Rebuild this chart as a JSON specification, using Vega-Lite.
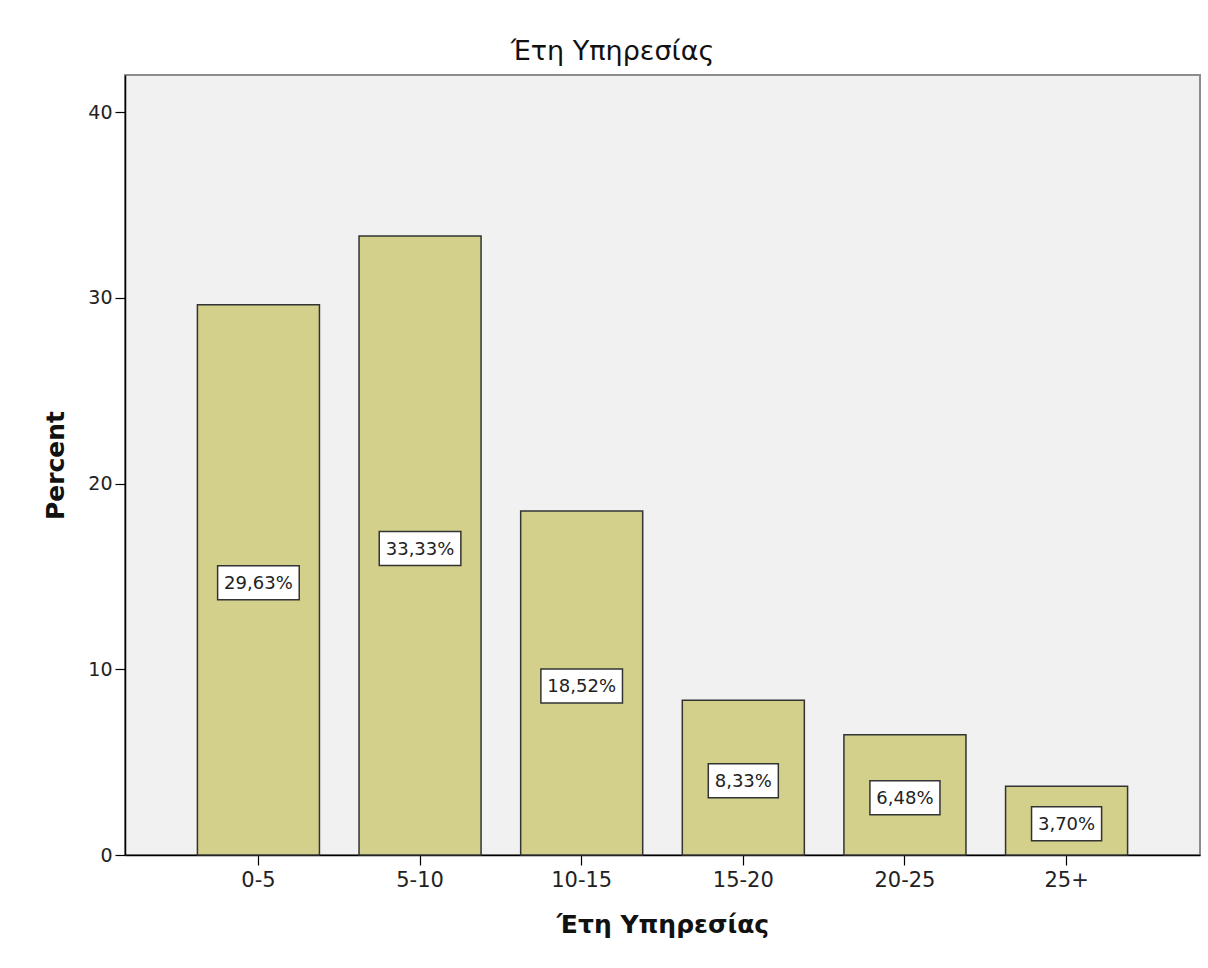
{
  "$schema": "https://vega.github.io/schema/vega-lite/v6.json",
  "autosize": {"type": "none"},
  "padding": {"left": 125, "top": 75, "right": 8, "bottom": 113},
  "width": 1075,
  "height": 780,
  "background": "white",
  "config": {
    "font": "DejaVu Sans",
    "view": {"fill": "#f1f1f1", "stroke": "#8c8c8c", "strokeWidth": 2}
  },
  "title": {
    "text": "Έτη Υπηρεσίας",
    "font": "DejaVu Sans",
    "fontSize": 27,
    "fontWeight": "normal",
    "color": "#111",
    "anchor": "middle",
    "dx": -50,
    "offset": 9
  },
  "data": {
    "values": [
      {"years": "0-5", "pct": 29.63, "label": "29,63%"},
      {"years": "5-10", "pct": 33.33, "label": "33,33%"},
      {"years": "10-15", "pct": 18.52, "label": "18,52%"},
      {"years": "15-20", "pct": 8.33, "label": "8,33%"},
      {"years": "20-25", "pct": 6.48, "label": "6,48%"},
      {"years": "25+", "pct": 3.70, "label": "3,70%"}
    ]
  },
  "encoding": {
    "x": {
      "field": "years",
      "type": "nominal",
      "sort": null,
      "scale": {"paddingInner": 0.245, "paddingOuter": 0.448},
      "axis": {
        "title": "Έτη Υπηρεσίας",
        "titleFontSize": 25,
        "titleFontWeight": "bold",
        "titleColor": "#111",
        "titlePadding": 22,
        "labelAngle": 0,
        "labelFontSize": 21,
        "labelColor": "#222",
        "labelPadding": 4,
        "domainColor": "#000",
        "domainWidth": 1.5,
        "tickColor": "#000",
        "tickSize": 10,
        "tickWidth": 1.2
      }
    }
  },
  "layer": [
    {
      "mark": {"type": "bar", "color": "#d3d08c", "stroke": "#333", "strokeWidth": 1.5},
      "encoding": {
        "y": {
          "field": "pct",
          "type": "quantitative",
          "scale": {"domain": [0, 42], "nice": false},
          "axis": {
            "title": "Percent",
            "titleFontSize": 25,
            "titleFontWeight": "bold",
            "titleColor": "#111",
            "titlePadding": 19,
            "values": [0, 10, 20, 30, 40],
            "grid": false,
            "labelFontSize": 19,
            "labelColor": "#222",
            "labelPadding": 3,
            "domainColor": "#000",
            "domainWidth": 1.5,
            "tickColor": "#000",
            "tickSize": 10,
            "tickWidth": 1.2
          }
        }
      }
    },
    {
      "encoding": {
        "y": {
          "field": "pct",
          "type": "quantitative",
          "scale": {"domain": [0, 84], "nice": false},
          "axis": null
        }
      },
      "layer": [
        {
          "transform": [{"filter": "datum.pct >= 10"}],
          "mark": {
            "type": "point",
            "shape": "M-1.2,-0.5H1.2V0.5H-1.2Z",
            "size": 4624,
            "filled": true,
            "fill": "white",
            "opacity": 1,
            "stroke": "#333",
            "strokeWidth": 1.5,
            "yOffset": 3
          }
        },
        {
          "transform": [{"filter": "datum.pct < 10"}],
          "mark": {
            "type": "point",
            "shape": "M-1.03,-0.5H1.03V0.5H-1.03Z",
            "size": 4624,
            "filled": true,
            "fill": "white",
            "opacity": 1,
            "stroke": "#333",
            "strokeWidth": 1.5,
            "yOffset": 3
          }
        },
        {
          "mark": {
            "type": "text",
            "fontSize": 18,
            "color": "#222",
            "align": "center",
            "baseline": "middle",
            "yOffset": 4
          },
          "encoding": {"text": {"field": "label"}}
        }
      ]
    }
  ],
  "resolve": {"scale": {"y": "independent"}}
}
